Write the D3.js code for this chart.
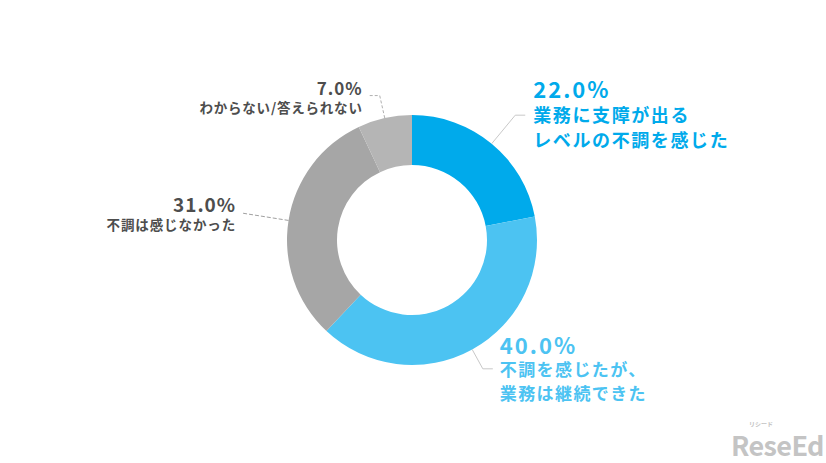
<!DOCTYPE html>
<html><head><meta charset="utf-8">
<script src="https://cdn.jsdelivr.net/npm/d3@7"></script>
<style>
html,body{margin:0;padding:0;background:#fff;}
svg{display:block;}
text{font-family:"Noto Sans CJK JP","Noto Sans",sans-serif;font-weight:700;}
</style></head>
<body>
<script>
// ---- data ----
const categories = ["業務に支障が出るレベルの不調を感じた", "不調を感じたが、業務は継続できた", "不調は感じなかった", "わからない/答えられない"];
const values = [22.0, 40.0, 31.0, 7.0];
const labelLines = [
  ["業務に支障が出る", "レベルの不調を感じた"],
  ["不調を感じたが、", "業務は継続できた"],
  ["不調は感じなかった"],
  ["わからない/答えられない"]
];
const colors = ["#00aaeb", "#4cc3f2", "#a6a6a6", "#b5b5b5"];
const textColors = ["#00aaeb", "#4cc3f2", "#4d4d4d", "#4d4d4d"];

const W = 826, H = 463;
const cx = 412, cy = 240, R = 125, r0 = 75;

const svg = d3.select("body").append("svg").attr("width", W).attr("height", H);
svg.append("rect").attr("width", W).attr("height", H).attr("fill", "#fff");

const data = categories.map((c, i) => ({ c, v: values[i], i }));
const pie = d3.pie().value(d => d.v).sort(null);
const arcs = pie(data);
const arc = d3.arc().innerRadius(r0).outerRadius(R);

const g = svg.append("g").attr("transform", `translate(${cx},${cy})`);
g.selectAll("path.slice").data(arcs).enter().append("path")
  .attr("class", "slice")
  .attr("d", arc)
  .attr("fill", d => colors[d.data.i]);

// leader lines + labels
const leader = [
  { rElbow: 162, hx: 10, dash: null, stroke: "#c8c8c8" },
  { rElbow: 147, hx: 10, dash: null, stroke: "#c8c8c8" },
  { rElbow: 172, hx: 0, dash: "4,2", stroke: "#a0a0a0" },
  { rElbow: 148, hx: -11, dash: "3,2", stroke: "#b0b0b0" }
];
const labelStyle = [
  { anchor: "start", dx: 8, pct: 22, pctLS: 2, pctY: -17, sub: 18, subLS: 1.6, subY: [7, 32] },
  { anchor: "start", dx: 7, pct: 22, pctLS: 2, pctY: -15, sub: 17, subLS: 1.4, subY: [7, 31] },
  { anchor: "end", dx: -6, pct: 19, pctLS: 1, pctY: -1, sub: 13.5, subLS: 0.9, subY: [17] },
  { anchor: "end", dx: -6, pct: 17, pctLS: 1, pctY: -1, sub: 13.5, subLS: 0.8, subY: [17] }
];

arcs.forEach((a, k) => {
  const i = a.data.i;
  const mid = (a.startAngle + a.endAngle) / 2;
  const s = [Math.sin(mid) * R, -Math.cos(mid) * R];
  const e = [Math.sin(mid) * leader[i].rElbow, -Math.cos(mid) * leader[i].rElbow];
  const f = [e[0] + leader[i].hx, e[1]];
  const pts = leader[i].hx === 0 ? [s, e] : [s, e, f];
  g.append("path")
    .attr("d", d3.line()(pts))
    .attr("fill", "none")
    .attr("stroke", leader[i].stroke)
    .attr("stroke-width", 1)
    .attr("stroke-dasharray", leader[i].dash);

  const st = labelStyle[i];
  const tx = f[0] + st.dx;
  const ty = f[1];
  g.append("text")
    .attr("x", tx).attr("y", ty + st.pctY)
    .attr("text-anchor", st.anchor)
    .attr("fill", textColors[i])
    .attr("font-size", st.pct)
    .attr("letter-spacing", st.pctLS)
    .text(d3.format(".1f")(a.data.v) + "%");
  labelLines[i].forEach((ln, j) => {
    g.append("text")
      .attr("x", tx).attr("y", ty + st.subY[j])
      .attr("text-anchor", st.anchor)
      .attr("fill", textColors[i])
      .attr("font-size", st.sub)
      .attr("letter-spacing", st.subLS)
      .text(ln);
  });
});

// watermark
svg.append("text").attr("x", 731).attr("y", 456)
  .attr("font-family", "Roboto, sans-serif").attr("font-weight", 700)
  .attr("font-size", 27).attr("fill", "#c4c4c4").attr("letter-spacing", -0.6)
  .text("ReseEd");
svg.append("text").attr("x", 749).attr("y", 426)
  .attr("font-size", 6).attr("fill", "#c4c4c4")
  .text("リシード");
</script>
</body></html>
